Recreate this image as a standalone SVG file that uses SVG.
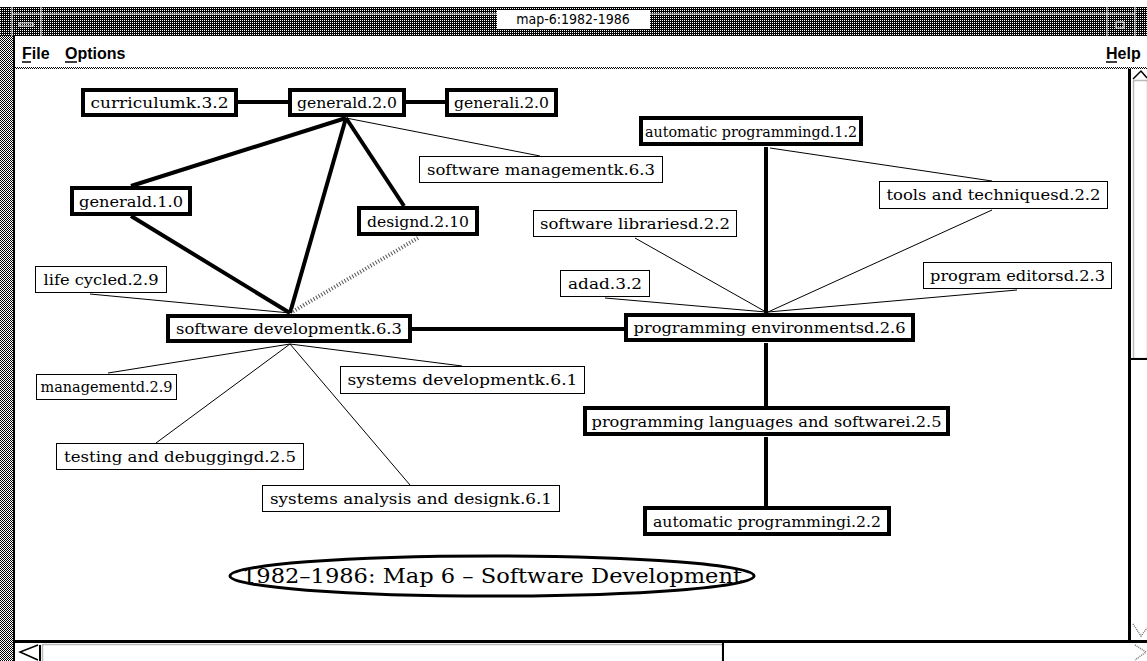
<svg xmlns="http://www.w3.org/2000/svg" width="1147" height="661" viewBox="0 0 1147 661">
<defs>
<pattern id="st" width="2" height="2" patternUnits="userSpaceOnUse"><rect width="2" height="2" fill="#fff"/><rect width="1" height="1" fill="#000"/><rect x="1" y="1" width="1" height="1" fill="#000"/></pattern>
<pattern id="dk" width="2" height="2" patternUnits="userSpaceOnUse"><rect width="2" height="2" fill="#000"/><rect width="1" height="1" fill="#fff"/></pattern>
<style>
.lbl{font-family:"DejaVu Serif","Liberation Serif",serif;font-size:15px;fill:#000;text-anchor:middle}
.bold{fill:#fff;stroke:#000;stroke-width:4}
.thin{fill:#fff;stroke:#000;stroke-width:1}
.thick{stroke:#000;stroke-width:4;fill:none}
.th{stroke:#000;stroke-width:1;fill:none}
.dot{stroke:#555;stroke-width:4;stroke-dasharray:1 2;fill:none}
.menu{font-family:"Liberation Sans",Arial,sans-serif;font-size:16px;font-weight:bold;fill:#000}
</style>
</defs>
<!-- window chrome -->
<rect x="0" y="0" width="1147" height="661" fill="#fff"/>
<rect x="0" y="7" width="1147" height="29" fill="url(#dk)"/>
<line x1="12" y1="7" x2="12" y2="36" stroke="#fff" stroke-width="1"/>
<line x1="41" y1="7" x2="41" y2="36" stroke="#fff" stroke-width="1"/>
<line x1="1107" y1="7" x2="1107" y2="36" stroke="#fff" stroke-width="1"/>
<line x1="1135" y1="7" x2="1135" y2="36" stroke="#fff" stroke-width="1"/>
<line x1="12" y1="14" x2="1135" y2="14" stroke="#fff" stroke-width="1"/>
<rect x="19" y="23" width="14" height="3" fill="none" stroke="#fff" stroke-width="1"/>
<rect x="1116" y="22" width="8" height="6" fill="none" stroke="#fff" stroke-width="1"/>
<rect x="497" y="10" width="153" height="19" fill="#fff"/>
<text x="573" y="24" font-family="DejaVu Sans Condensed,Liberation Sans,sans-serif" font-size="14" text-anchor="middle" fill="#000">map-6:1982-1986</text>
<rect x="0" y="36" width="13" height="625" fill="url(#st)"/>
<rect x="13" y="36" width="2" height="625" fill="#000"/>
<text class="menu" x="22" y="59">File</text>
<text class="menu" x="65" y="59">Options</text>
<text class="menu" x="1106" y="59">Help</text>
<line x1="22" y1="62" x2="31" y2="62" stroke="#000" stroke-width="1.5"/>
<line x1="65" y1="62" x2="77" y2="62" stroke="#000" stroke-width="1.5"/>
<line x1="1106" y1="62" x2="1117" y2="62" stroke="#000" stroke-width="1.5"/>
<rect x="15" y="67" width="1132" height="2" fill="url(#st)"/>
<!-- right scrollbar -->
<rect x="1128" y="69" width="3" height="573" fill="#000"/>
<rect x="1131" y="69" width="16" height="573" fill="#fff"/>
<rect x="1133.5" y="80.5" width="14" height="278" fill="none" stroke="#777" stroke-width="1.5" stroke-dasharray="1 1"/>
<line x1="1131" y1="359" x2="1147" y2="359" stroke="#000" stroke-width="2"/>
<path d="M1133 79 L1141 71 L1147 78" fill="none" stroke="#000" stroke-width="1.5"/>
<path d="M1133 624 L1141 636 L1147 628" fill="none" stroke="#777" stroke-width="1.5" stroke-dasharray="1 1"/>
<!-- bottom scrollbar -->
<rect x="15" y="640" width="1132" height="3" fill="#000"/>
<path d="M38 645 L20 652 L38 660" fill="none" stroke="#000" stroke-width="1.5"/>
<line x1="40" y1="645" x2="40" y2="661" stroke="#000" stroke-width="2"/>
<rect x="42.5" y="644.5" width="680" height="18" fill="#fff" stroke="#777" stroke-width="1.5" stroke-dasharray="1 1"/>
<line x1="723" y1="643" x2="723" y2="661" stroke="#000" stroke-width="2"/>
<path d="M1135 645 L1146 652 L1135 660" fill="none" stroke="#777" stroke-width="1.5" stroke-dasharray="1 1"/>

<g id="connectors">
<line class="thick" x1="238" y1="102" x2="288" y2="102"/>
<line class="thick" x1="406" y1="102" x2="445" y2="102"/>
<line class="thick" x1="346" y1="118" x2="131" y2="186"/>
<line class="thick" x1="346" y1="118" x2="290" y2="313"/>
<line class="thick" x1="346" y1="118" x2="404" y2="206"/>
<line class="th" x1="346" y1="118" x2="540" y2="156"/>
<line class="thick" x1="131" y1="216" x2="290" y2="313"/>
<line class="dot" x1="418" y1="238" x2="292" y2="312"/>
<line class="th" x1="90" y1="294" x2="290" y2="313"/>
<line class="th" x1="290" y1="344" x2="108" y2="373"/>
<line class="th" x1="290" y1="344" x2="156" y2="443"/>
<line class="th" x1="290" y1="344" x2="410" y2="485"/>
<line class="th" x1="290" y1="344" x2="462" y2="366"/>
<line class="thick" x1="412" y1="329" x2="624" y2="329"/>
<line class="thick" x1="766" y1="147" x2="766" y2="313"/>
<line class="th" x1="770" y1="148" x2="992" y2="181"/>
<line class="th" x1="992" y1="210" x2="768" y2="312"/>
<line class="th" x1="635" y1="238" x2="766" y2="312"/>
<line class="th" x1="605" y1="298" x2="766" y2="312"/>
<line class="th" x1="1017" y1="290" x2="768" y2="312"/>
<line class="thick" x1="766" y1="343" x2="766" y2="406"/>
<line class="thick" x1="766" y1="437" x2="766" y2="506"/>
</g>

<g id="n-curriculum"><rect class="bold" x="83" y="90" width="153" height="25"/><text class="lbl" x="159.5" y="108" textLength="138" lengthAdjust="spacingAndGlyphs">curriculumk.3.2</text></g>
<g id="n-generald20"><rect class="bold" x="290" y="90" width="114" height="25"/><text class="lbl" x="347" y="108" textLength="100" lengthAdjust="spacingAndGlyphs">generald.2.0</text></g>
<g id="n-generali20"><rect class="bold" x="447" y="90" width="109" height="25"/><text class="lbl" x="501.5" y="108" textLength="95" lengthAdjust="spacingAndGlyphs">generali.2.0</text></g>
<g id="n-autoprogd12"><rect class="bold" x="641" y="118" width="220" height="26"/><text class="lbl" x="751" y="137" textLength="212" lengthAdjust="spacingAndGlyphs">automatic programmingd.1.2</text></g>
<g id="n-softmgmt"><rect class="thin" x="419.5" y="156.5" width="243" height="26"/><text class="lbl" x="541" y="175" textLength="228" lengthAdjust="spacingAndGlyphs">software managementk.6.3</text></g>
<g id="n-generald10"><rect class="bold" x="72" y="188" width="118" height="26"/><text class="lbl" x="131" y="207" textLength="104" lengthAdjust="spacingAndGlyphs">generald.1.0</text></g>
<g id="n-design"><rect class="bold" x="359" y="208" width="118" height="26"/><text class="lbl" x="418" y="227" textLength="102" lengthAdjust="spacingAndGlyphs">designd.2.10</text></g>
<g id="n-tools"><rect class="thin" x="879.5" y="181.5" width="228" height="27"/><text class="lbl" x="993.5" y="200" textLength="214" lengthAdjust="spacingAndGlyphs">tools and techniquesd.2.2</text></g>
<g id="n-softlib"><rect class="thin" x="533.5" y="210.5" width="203" height="26"/><text class="lbl" x="635" y="229" textLength="190" lengthAdjust="spacingAndGlyphs">software librariesd.2.2</text></g>
<g id="n-lifecycle"><rect class="thin" x="35.5" y="266.5" width="131" height="26"/><text class="lbl" x="101" y="285" textLength="115" lengthAdjust="spacingAndGlyphs">life cycled.2.9</text></g>
<g id="n-ada"><rect class="thin" x="560.5" y="270.5" width="89" height="26"/><text class="lbl" x="605" y="289" textLength="74" lengthAdjust="spacingAndGlyphs">adad.3.2</text></g>
<g id="n-progeditors"><rect class="thin" x="923.5" y="262.5" width="188" height="26"/><text class="lbl" x="1017.5" y="281" textLength="175" lengthAdjust="spacingAndGlyphs">program editorsd.2.3</text></g>
<g id="n-softdev"><rect class="bold" x="168" y="316" width="242" height="25"/><text class="lbl" x="289" y="334" textLength="226" lengthAdjust="spacingAndGlyphs">software developmentk.6.3</text></g>
<g id="n-progenv"><rect class="bold" x="626" y="315" width="287" height="25"/><text class="lbl" x="769.5" y="333" textLength="272" lengthAdjust="spacingAndGlyphs">programming environmentsd.2.6</text></g>
<g id="n-management"><rect class="thin" x="36.5" y="374.5" width="140" height="25"/><text class="lbl" x="106.5" y="392" textLength="132" lengthAdjust="spacingAndGlyphs">managementd.2.9</text></g>
<g id="n-sysdev"><rect class="thin" x="340.5" y="366.5" width="244" height="27"/><text class="lbl" x="462.5" y="385" textLength="230" lengthAdjust="spacingAndGlyphs">systems developmentk.6.1</text></g>
<g id="n-proglang"><rect class="bold" x="585" y="408" width="363" height="26"/><text class="lbl" x="766.5" y="427" textLength="350" lengthAdjust="spacingAndGlyphs">programming languages and softwarei.2.5</text></g>
<g id="n-testing"><rect class="thin" x="56.5" y="443.5" width="247" height="26"/><text class="lbl" x="180" y="462" textLength="232" lengthAdjust="spacingAndGlyphs">testing and debuggingd.2.5</text></g>
<g id="n-sysanalysis"><rect class="thin" x="262.5" y="485.5" width="297" height="26"/><text class="lbl" x="411" y="504" textLength="282" lengthAdjust="spacingAndGlyphs">systems analysis and designk.6.1</text></g>
<g id="n-autoprogi22"><rect class="bold" x="645" y="508" width="244" height="26"/><text class="lbl" x="767" y="527" textLength="228" lengthAdjust="spacingAndGlyphs">automatic programmingi.2.2</text></g>
<g id="title"><ellipse cx="492" cy="576" rx="262" ry="20" fill="#fff" stroke="#000" stroke-width="3"/><text x="492" y="583" font-family="DejaVu Serif,Liberation Serif,serif" font-size="20" text-anchor="middle" fill="#000" textLength="500" lengthAdjust="spacingAndGlyphs">1982–1986: Map 6 – Software Development</text></g>
</svg>
